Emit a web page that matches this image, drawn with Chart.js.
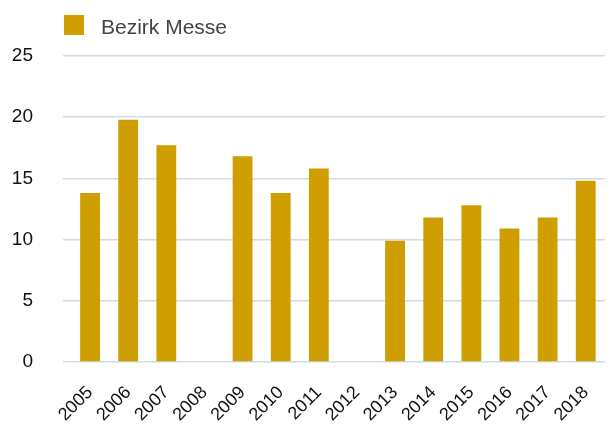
<!DOCTYPE html>
<html>
<head>
<meta charset="utf-8">
<script src="https://cdn.jsdelivr.net/npm/chart.js@4"></script>
<style>
  html, body { margin: 0; padding: 0; background: #fff; overflow: hidden; }
  canvas { display: block; }
</style>
</head>
<body>
<canvas id="chart" width="613" height="426"></canvas>
<script>
// data
const years = ["2005", "2006", "2007", "2008", "2009", "2010", "2011", "2012", "2013", "2014", "2015", "2016", "2017", "2018"];
const messe = [13.8, 19.8, 17.7, null, 16.8, 13.8, 15.8, null, 9.9, 11.8, 12.8, 10.9, 11.8, 14.8];
const yTicks = [0, 5, 10, 15, 20, 25];

const FONT = "Arial, 'Liberation Sans', sans-serif";

// simple legend: box + label, drawn above the plot
const topLegend = {
  id: "topLegend",
  afterDraw(chart) {
    const c = chart.ctx;
    const ds = chart.data.datasets[0];
    c.save();
    c.fillStyle = ds.backgroundColor;
    c.fillRect(64, 15, 20, 20);
    c.fillStyle = "#444";
    c.font = "21px " + FONT;
    c.textBaseline = "alphabetic";
    c.fillText(ds.label, 101, 34);
    c.restore();
  }
};

new Chart(document.getElementById("chart"), {
  type: "bar",
  data: {
    labels: years,
    datasets: [{
      label: "Bezirk Messe",
      data: messe,
      backgroundColor: "#cf9e00",
      borderWidth: 0,
      barPercentage: 0.52,
      categoryPercentage: 1
    }]
  },
  options: {
    responsive: false,
    animation: false,
    layout: { padding: { left: 0, right: 0, top: 56, bottom: 0 } },
    plugins: {
      legend: { display: false },
      tooltip: { enabled: false }
    },
    scales: {
      x: {
        afterFit: s => { s.height = 64; },
        grid: { display: false },
        border: { display: false },
        ticks: {
          color: "#111",
          padding: 12,
          minRotation: 45,
          maxRotation: 45,
          font: { family: FONT, size: 18 }
        }
      },
      y: {
        min: 0,
        max: 25,
        afterFit: s => { s.width = 71; },
        afterBuildTicks: axis => { axis.ticks = yTicks.map(v => ({ value: v })); },
        grid: { color: "#cddde6", lineWidth: 1.5, drawTicks: true, tickLength: 8 },
        border: { display: false },
        ticks: {
          color: "#111",
          padding: 30,
          font: { family: FONT, size: 19 }
        }
      }
    }
  },
  plugins: [topLegend]
});
</script>
</body>
</html>
